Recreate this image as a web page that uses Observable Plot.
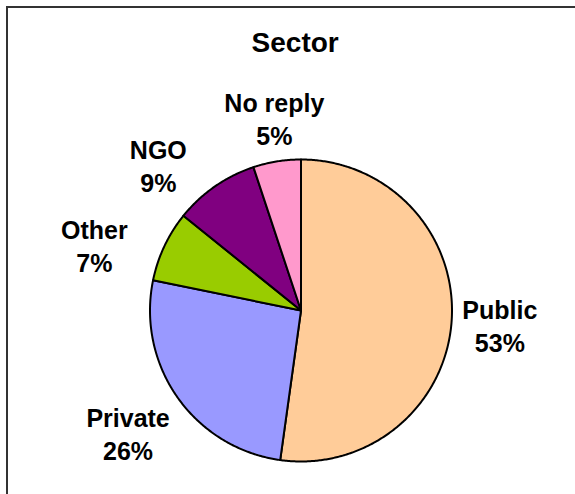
<!DOCTYPE html>
<html>
<head>
<meta charset="utf-8">
<script src="https://cdn.jsdelivr.net/npm/d3@7"></script>
<script src="https://cdn.jsdelivr.net/npm/@observablehq/plot@0.6"></script>
<style>
  html, body { margin: 0; padding: 0; background: #fff; }
  #wrap { position: relative; width: 575px; height: 494px; overflow: hidden; }
  #frame { position: absolute; left: 6px; top: 6px; width: 700px; height: 700px;
           border-top: 2px solid #333; border-left: 2px solid #333; pointer-events: none; }
  #chart svg { display: block; }
</style>
</head>
<body>
<div id="wrap"><div id="chart"></div><div id="frame"></div></div>
<script>
// ---- data ----
const title = "Sector";
const categories = ["Public", "Private", "Other", "NGO", "No reply"];
const shares = [52.2, 26.0, 7.6, 9.1, 5.1];          // slice sizes, %
const pctLabels = ["53%", "26%", "7%", "9%", "5%"]; // printed labels
const colors = ["#FFCC99", "#9999FF", "#99CC00", "#800080", "#FF99CC"];

// ---- layout (not data) ----
const labelRadius = 1.3;
const labelNudge = [[0.020, -0.009], [-0.084, -0.058], [-0.192, -0.117], [-0.204, -0.102], [0.031, -0.010]];

const arcs = d3.pie().sort(null).value(d => d)(shares);

// slice polygons in unit-radius coordinates
const slicePts = [];
arcs.forEach((a, i) => {
  const cat = categories[i];
  slicePts.push({cat, x: 0, y: 0});
  const n = Math.max(2, Math.ceil((a.endAngle - a.startAngle) / (Math.PI / 360)));
  for (let k = 0; k <= n; k++) {
    const t = a.startAngle + (a.endAngle - a.startAngle) * k / n;
    slicePts.push({cat, x: Math.sin(t), y: Math.cos(t)});
  }
});

const labels = arcs.map((a, i) => {
  const m = (a.startAngle + a.endAngle) / 2;
  return {
    text: categories[i] + "\n" + pctLabels[i],
    x: Math.sin(m) * labelRadius + labelNudge[i][0],
    y: Math.cos(m) * labelRadius + labelNudge[i][1]
  };
});

const chart = Plot.plot({
  width: 575,
  height: 494,
  marginLeft: 149.5,
  marginRight: 123.5,
  marginTop: 159,
  marginBottom: 33,
  x: {domain: [-1, 1], axis: null},
  y: {domain: [-1, 1], axis: null},
  color: {domain: categories, range: colors},
  style: {fontFamily: "'Liberation Sans', Arial, sans-serif", background: "transparent"},
  marks: [
    Plot.line(slicePts, {x: "x", y: "y", z: "cat", fill: "cat", stroke: "#000",
      strokeWidth: 2, strokeLinejoin: "round", curve: "linear-closed"}),
    Plot.text(labels, {x: "x", y: "y", text: "text", fontSize: 25, fontWeight: "bold",
      fill: "#000", lineHeight: 1.32, textAnchor: "middle", lineAnchor: "middle"}),
    Plot.text([title], {frameAnchor: "top", text: d => d, dx: -5.8, dy: -116,
      fontSize: 28, fontWeight: "bold", fill: "#000", lineAnchor: "middle"})
  ]
});
document.getElementById("chart").appendChild(chart);
</script>
</body>
</html>
